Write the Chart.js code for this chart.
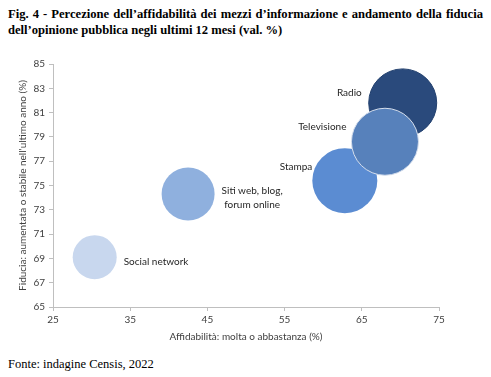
<!DOCTYPE html>
<html>
<head>
<meta charset="utf-8">
<script src="https://cdn.jsdelivr.net/npm/chart.js@4.4.0/dist/chart.umd.min.js"></script>
<style>
  html,body{margin:0;padding:0;background:#fff;}
  body{width:491px;height:377px;position:relative;overflow:hidden;}
  #title{position:absolute;left:8px;top:6px;width:475px;font-family:"Liberation Serif","Times New Roman",serif;font-weight:bold;font-size:12.6px;line-height:16px;color:#000;text-align:justify;text-align-last:left;}
  #src{position:absolute;left:8px;top:357px;font-family:"Liberation Serif","Times New Roman",serif;font-size:12.5px;color:#000;}
  #wrap{position:absolute;left:0;top:40px;width:491px;height:310px;}
</style>
</head>
<body>
<div id="title">Fig. 4 - Percezione dell’affidabilità dei mezzi d’informazione e andamento della fiducia dell’opinione pubblica negli ultimi 12 mesi (val. %)</div>
<div id="wrap"><canvas id="c"></canvas></div>
<div id="src">Fonte: indagine Censis, 2022</div>
<script>
// Data (draw order: Radio before Televisione so the latter sits on top)
const categories = ["Social network", "Siti web, blog,\nforum online", "Stampa", "Radio", "Televisione"];
const affidabilita = [30.4, 42.5, 62.8, 70.3, 68.0];   // x, %
const fiducia      = [69.1, 74.3, 75.4, 81.8, 78.6];   // y, %
const bubbleSize   = [22, 26.5, 32.5, 34, 33.5];       // relative bubble size
const xTicks = [25, 35, 45, 55, 65, 75];
const yTicks = [65, 67, 69, 71, 73, 75, 77, 79, 81, 83, 85];

const colors  = ["#C8D7EE", "#8FB0DE", "#5B8CD2", "#2A4A7C", "#5781BB"];
const borders = ["#C8D7EE", "#8FB0DE", "#5B8CD2", "#22406E", "#D5DEEC"];
const bw      = [0, 0, 0, 1, 1];
// label placement: side and vertical offset (px)
const labelLayout = [
  {side:"right", dy:5, gap:7},
  {side:"right", dy:3.5, gap:7},
  {side:"left",  dy:-13.5, gap:0},
  {side:"left",  dy:-10, gap:7},
  {side:"left",  dy:-15, gap:5}
];

const pts = categories.map((c,i)=>({x:affidabilita[i], y:fiducia[i], r:bubbleSize[i]}));

const labelPlugin = {
  id:"bubbleLabels",
  afterDatasetsDraw(chart){
    const ctx = chart.ctx;
    const meta = chart.getDatasetMeta(0);
    ctx.save();
    ctx.font = "10px Lato, 'Open Sans', sans-serif";
    ctx.fillStyle = "#262626";
    ctx.textBaseline = "middle";
    meta.data.forEach((el,i)=>{
      const L = labelLayout[i];
      const r = bubbleSize[i];
      const lines = categories[i].split("\n");
      const lh = 14;
      const y0 = el.y + L.dy - (lines.length-1)*lh/2;
      lines.forEach((ln,j)=>{
        if(L.side==="right"){
          ctx.textAlign = lines.length>1 ? "center":"left";
          let x = el.x + r + L.gap;
          if(lines.length>1){
            const w = Math.max(...lines.map(s=>ctx.measureText(s).width));
            x += w/2;
          }
          ctx.fillText(ln, x, y0 + j*lh);
        } else {
          ctx.textAlign = "right";
          ctx.fillText(ln, el.x - r - L.gap, y0 + j*lh);
        }
      });
    });
    ctx.restore();
  }
};

new Chart(document.getElementById("c"), {
  type: "bubble",
  data: {
    datasets: [{
      data: pts,
      backgroundColor: colors,
      borderColor: borders,
      borderWidth: bw,
      hoverBackgroundColor: colors,
      hoverBorderColor: borders,
      clip: false
    }]
  },
  options: {
    responsive: true,
    maintainAspectRatio: false,
    animation: false,
    events: [],
    layout: {autoPadding: false, padding: {left: 17, right: 52, top: 24, bottom: 7}},
    plugins: {legend: {display: false}, tooltip: {enabled: false}},
    scales: {
      x: {
        type: "linear",
        min: 25, max: 75,
        afterBuildTicks(s){ s.ticks = xTicks.map(v=>({value:v})); },
        afterFit(s){ s.height = 36; },
        grid: {drawOnChartArea: false, drawTicks: true, tickLength: 4, color: "#BFBFBF"},
        border: {color: "#BFBFBF", width: 1},
        ticks: {color: "#404040", font: {family: "Lato, 'Open Sans', sans-serif", size: 10}, padding: 3, maxRotation: 0},
        title: {display: true, text: "Affidabilità: molta o abbastanza (%)", color: "#404040", font: {family: "Lato, 'Open Sans', sans-serif", size: 10}, padding: {top: 2, bottom: 0}}
      },
      y: {
        type: "linear",
        min: 65, max: 85,
        afterBuildTicks(s){ s.ticks = yTicks.map(v=>({value:v})); },
        afterFit(s){ s.width = 36; },
        grid: {drawOnChartArea: false, drawTicks: true, tickLength: 4, color: "#BFBFBF"},
        border: {color: "#BFBFBF", width: 1},
        ticks: {color: "#404040", font: {family: "Lato, 'Open Sans', sans-serif", size: 10}, padding: 4},
        title: {display: true, text: "Fiducia: aumentata o stabile nell'ultimo anno (%)", color: "#404040", font: {family: "Lato, 'Open Sans', sans-serif", size: 10}, padding: {top: 0, bottom: 2}}
      }
    }
  },
  plugins: [labelPlugin]
});
</script>
</body>
</html>
